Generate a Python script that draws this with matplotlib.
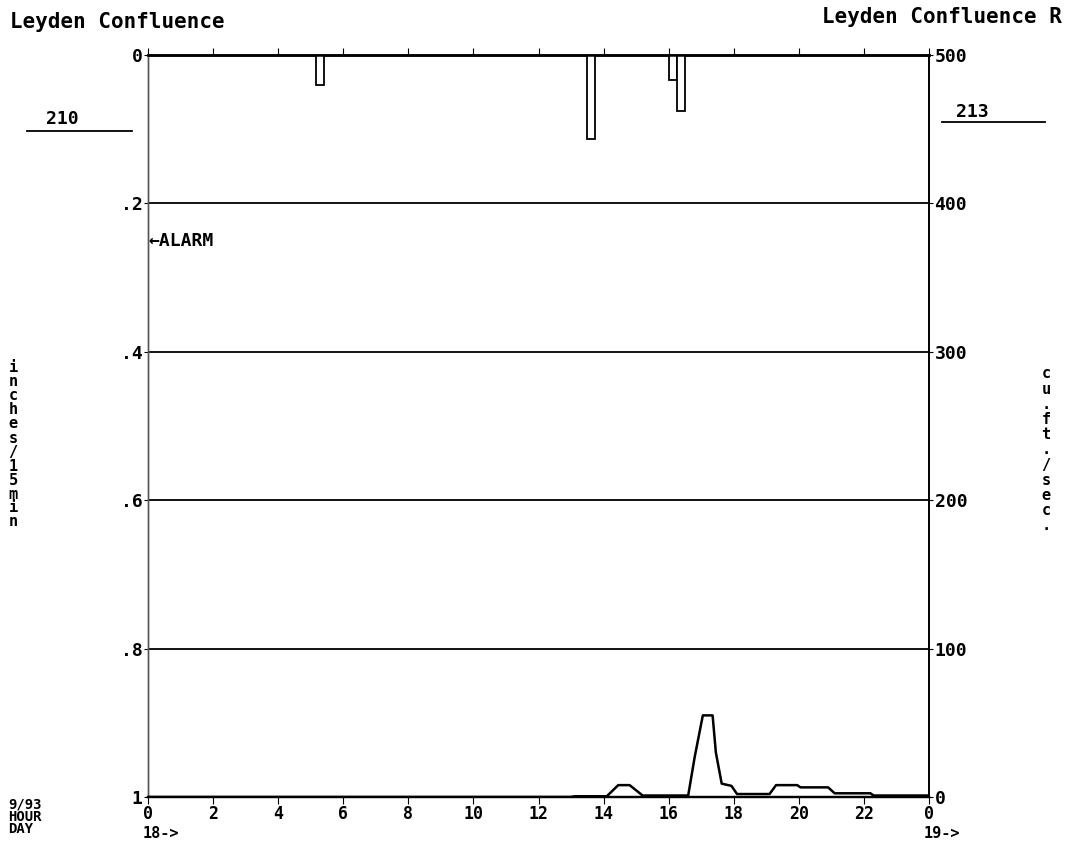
import numpy as np
import matplotlib.pyplot as plt

# rain (inches per 15 min), bars hang down from the top
rain_hour = [5.15, 13.5, 16.0, 16.25]
rain_in = [0.04, 0.113, 0.034, 0.075]

# flow (cu.ft./sec)
flow_hour = [0, 13.0, 13.1, 14.1, 14.45, 14.8, 15.2, 16.6, 16.8, 17.05, 17.35, 17.45,
             17.63, 17.93, 18.1, 19.1, 19.3, 19.95, 20.05, 20.9, 21.1, 22.2, 22.3, 24]
flow_cfs = [0, 0, 0.5, 0.5, 8, 8, 1, 1, 27, 55, 55, 30,
            9, 7.5, 2, 2, 8, 8, 6.5, 6.5, 2.5, 2.5, 1, 1]

hour_ticks = list(range(0, 25, 2))
hour_labels = ['0', '2', '4', '6', '8', '10', '12', '14', '16', '18', '20', '22', '0']
rain_ticks = [0, 0.2, 0.4, 0.6, 0.8, 1]
rain_labels = ['0', '.2', '.4', '.6', '.8', '1']
flow_ticks = [0, 100, 200, 300, 400, 500]

W, H = 1067, 858
mono = 'DejaVu Sans Mono'
plt.rcParams['font.family'] = mono
plt.rcParams['font.weight'] = 'bold'


def fx(x):
    return x / W


def fy(y):
    return 1 - y / H


fig = plt.figure(figsize=(W / 100, H / 100), dpi=100)
ax = fig.add_axes([fx(148), fy(797), fx(929) - fx(148), fy(55) - fy(797)])
ax2 = ax.twinx()

# rain bars
ax.bar(rain_hour, rain_in, width=0.25, align='edge', bottom=0,
       facecolor='white', edgecolor='black', linewidth=1.3, zorder=3)
ax.set_xlim(0, 24)
ax.set_ylim(1, 0)
for v in rain_ticks[1:-1]:
    ax.axhline(v, color='black', lw=1.3, zorder=1)
ax.set_yticks(rain_ticks)
ax.set_yticklabels(rain_labels, fontsize=13)
ax.tick_params(axis='y', length=3, pad=1)
ax.set_xticks(hour_ticks)
ax.set_xticklabels(hour_labels, fontsize=12)
ax.tick_params(axis='x', which='both', top=True, direction='out', length=5, pad=1)

# flow trace
ax2.plot(flow_hour, flow_cfs, color='black', lw=1.8, zorder=4)
ax2.set_ylim(0, 500)
ax2.set_yticks(flow_ticks)
ax2.set_yticklabels([str(v) for v in flow_ticks], fontsize=13)
ax2.tick_params(axis='y', length=3, pad=1)

for a in (ax, ax2):
    a.spines['top'].set_linewidth(1.8)
    a.spines['bottom'].set_linewidth(1.6)
    a.spines['left'].set_linewidth(1.0)
    a.spines['left'].set_color('#555555')
    a.spines['right'].set_linewidth(1.2)

# headings
fig.text(fx(10), fy(22), 'Leyden Confluence', fontsize=15, ha='left', va='center')
fig.text(fx(1062), fy(17), 'Leyden Confluence R', fontsize=15, ha='right', va='center')

# gauge numbers with underline
fig.text(fx(62), fy(119), '210', fontsize=13, ha='center', va='center')
fig.add_artist(plt.Line2D([fx(27), fx(132)], [fy(131), fy(131)], color='black', lw=1.3))
fig.text(fx(972), fy(112), '213', fontsize=13, ha='center', va='center')
fig.add_artist(plt.Line2D([fx(942), fx(1045)], [fy(122), fy(122)], color='black', lw=1.3))

# alarm level
ax.text(0, 0.25, '\u2190ALARM', fontsize=13, ha='left', va='center', zorder=5)

# vertical axis labels, one character per line
for i, ch in enumerate('inches/15min'):
    fig.text(fx(13), fy(368 + i * 14), ch, fontsize=11, ha='center', va='center')
for i, ch in enumerate('cu.ft./sec.'):
    fig.text(fx(1046), fy(374 + i * 15.2), ch, fontsize=11, ha='center', va='center')

# bottom-left date / hour / day block
fig.text(fx(8), fy(805), '9/93', fontsize=10, ha='left', va='center')
fig.text(fx(8), fy(817), 'HOUR', fontsize=10, ha='left', va='center')
fig.text(fx(8), fy(829), 'DAY', fontsize=10, ha='left', va='center')
fig.text(fx(143), fy(834), '18->', fontsize=11, ha='left', va='center')
fig.text(fx(924), fy(834), '19->', fontsize=11, ha='left', va='center')

fig.savefig('out.png', dpi=100)
